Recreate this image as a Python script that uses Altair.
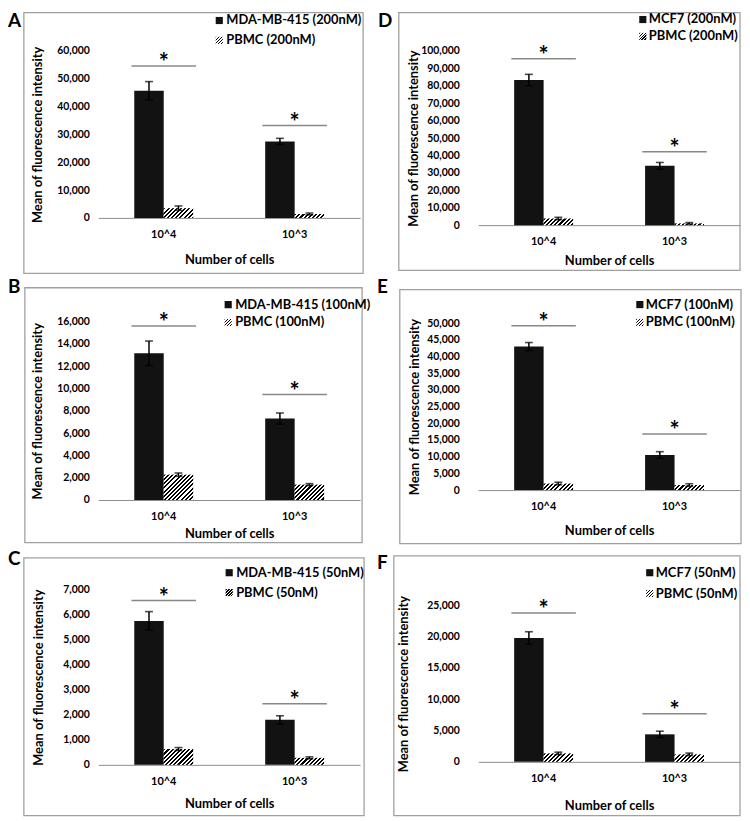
import altair as alt
import pandas as pd

# ---------------- data ----------------
categories = ["10^4", "10^3"]
panel_letters = ["A", "B", "C", "D", "E", "F"]
tumor_labels = ["MDA-MB-415 (200nM)", "MDA-MB-415 (100nM)", "MDA-MB-415 (50nM)",
                "MCF7 (200nM)", "MCF7 (100nM)", "MCF7 (50nM)"]
pbmc_labels = ["PBMC (200nM)", "PBMC (100nM)", "PBMC (50nM)",
               "PBMC (200nM)", "PBMC (100nM)", "PBMC (50nM)"]
tumor_mean = [[45700, 27500], [13150, 7300], [5750, 1800],
              [83300, 34100], [43000, 10500], [19800, 4400]]
tumor_err = [[3300, 1100], [1100, 500], [370, 160],
             [3300, 1900], [1200, 1000], [1000, 500]]
pbmc_mean = [[3500, 1400], [2270, 1380], [630, 280],
             [3800, 1000], [1950, 1500], [1350, 1200]]
pbmc_err = [[800, 350], [150, 90], [60, 40],
            [700, 500], [400, 400], [200, 200]]
sig_level = [[54600, 33200], [15600, 9450], [6560, 2440],
             [95600, 42100], [49200, 16800], [23800, 7700]]
tick_max = [60000, 16000, 7000, 100000, 50000, 25000]
tick_step = [10000, 2000, 1000, 10000, 5000, 5000]

# ---------------- layout (page pixels) ----------------
PANEL_ROW = [0, 1, 2, 0, 1, 2]
PANEL_COL = [0, 0, 0, 1, 1, 1]
ZERO_Y = [215.0, 499.0, 765.7, 222.3, 489.0, 762.7]
TOP_TICK_Y = [46.7, 319.0, 589.0, 46.7, 320.7, 605.0]
BOX = [(24, 8, 366, 271), (25, 285, 365, 542), (24, 557, 367, 817),
       (402, 8, 746, 268), (403, 287, 747, 543), (397, 555, 746, 817)]
LETTER_XY = [(8, 8), (8, 275), (8, 549), (381, 8), (380, 275), (380, 553)]
LEGEND = [(221, 228, 16, 36), (230, 237, 302, 320), (231, 238, 572, 592),
          (648, 654, 15, 32), (645, 651, 302, 320), (655, 661, 572, 593)]
YTITLE_X = [38, 38, 39, 417, 418, 407]
XTITLE_OFF = [42, 34, 39, 36, 41, 44]
YLAB_PAD = [9, 19]
PLOT_LEFT = [99, 482]
PLOT_W = 264
ROW_SPACING = 60
COL_SPACING = PLOT_LEFT[1] - (PLOT_LEFT[0] + PLOT_W)
P_INNER = 0.55

row_top = [46.7]
row_h = []
for r in range(3):
    hs = [ZERO_Y[i] - row_top[r] for i in range(6) if PANEL_ROW[i] == r]
    row_h.append(max(hs))
    if r < 2:
        row_top.append(row_top[r] + row_h[r] + ROW_SPACING)

FONT = "Lato"


def hatch_fill(w, h, period=4.0, frac=0.5):
    w = max(float(w), 0.5)
    h = max(float(h), 0.5)
    s = w + h
    gx = w * s / (w * w + h * h)
    gy = h * s / (w * w + h * h)
    dt = period / s
    stops = []
    k = 0
    while k * dt < 1:
        a = k * dt
        b = min((k + frac) * dt, 1.0)
        c = min((k + 1) * dt, 1.0)
        stops += [{"offset": a, "color": "#000000"}, {"offset": b, "color": "#000000"},
                  {"offset": b, "color": "#ffffff"}, {"offset": c, "color": "#ffffff"}]
        k += 1
    return {"gradient": "linear", "x1": 0, "y1": 0, "x2": gx, "y2": gy, "stops": stops}


def make_panel(i):
    r, c = PANEL_ROW[i], PANEL_COL[i]
    rt = row_top[r]
    pl = PLOT_LEFT[c]
    h = ZERO_Y[i] - rt
    dmax = tick_max[i] * h / (ZERO_Y[i] - TOP_TICK_Y[i]) * 1.0002

    recs = []
    for k, cat in enumerate(categories):
        tm, te = tumor_mean[i][k], tumor_err[i][k]
        pm, pe = pbmc_mean[i][k], pbmc_err[i][k]
        recs.append(dict(cat=cat, series="tumor", mean=tm, lo=tm - te, hi=tm + te))
        recs.append(dict(cat=cat, series="pbmc", mean=pm, lo=pm - pe, hi=pm + pe))
    df = pd.DataFrame(recs)
    sig_df = pd.DataFrame({"cat": categories, "sig": sig_level[i]})

    ticks = list(range(0, tick_max[i] + 1, tick_step[i]))
    yaxis = alt.Axis(values=ticks, format=",.0f", grid=False, domain=False, ticks=False,
                     labelPadding=YLAB_PAD[c], labelFontSize=10.5, labelFontWeight="bold",
                     labelColor="black", labelFont=FONT,
                     title="Mean of fluorescence intensity", titleFont=FONT,
                     titleFontSize=13, titleFontWeight="bold", titleColor="black",
                     titleAngle=270, titleX=YTITLE_X[i] - pl,
                     titleY=(TOP_TICK_Y[i] + ZERO_Y[i]) / 2 - rt,
                     titleAlign="center", titleBaseline="middle")
    yscale = alt.Scale(domain=[0, dmax], nice=False, zero=True)
    xaxis = alt.Axis(labelAngle=0, labelFontSize=11, labelFontWeight="bold",
                     labelColor="black", labelFont=FONT, labelPadding=11,
                     ticks=False, tickSize=0, domainColor="#8c8c8c", domainWidth=1,
                     grid=False, title="Number of cells", titleFont=FONT,
                     titleFontSize=13, titleFontWeight="bold", titleColor="black",
                     titleY=XTITLE_OFF[i], titleBaseline="middle")
    xscale = alt.Scale(domain=categories, paddingInner=P_INNER, paddingOuter=P_INNER / 2)
    X = alt.X("cat:N", scale=xscale, axis=xaxis, sort=categories)
    XO = alt.XOffset("series:N", scale=alt.Scale(domain=["tumor", "pbmc"],
                                                 paddingInner=0, paddingOuter=0))

    def Y(field):
        return alt.Y(field, type="quantitative", scale=yscale, axis=yaxis)

    base = alt.Chart(df).encode(x=X, xOffset=XO)
    layers = []
    layers.append(base.transform_filter(alt.datum.series == "tumor")
                  .mark_bar(fill="#121212").encode(y=Y("mean")))

    step = PLOT_W / 2.0
    sub_w = step * (1 - P_INNER) / 2.0
    for k, cat in enumerate(categories):
        hp = pbmc_mean[i][k] / dmax * h
        layers.append(base.transform_filter((alt.datum.series == "pbmc") & (alt.datum.cat == cat))
                      .mark_bar(fill=hatch_fill(sub_w, hp, 4.2)).encode(y=Y("mean")))

    layers.append(base.mark_rule(color="black", strokeWidth=1.5)
                  .encode(y=Y("lo"), y2=alt.Y2("hi")))
    layers.append(base.mark_tick(color="black", size=8, thickness=1.6).encode(y=Y("hi")))
    layers.append(base.mark_tick(color="black", size=8, thickness=1.6).encode(y=Y("lo")))

    sig = alt.Chart(sig_df).encode(x=X, y=Y("sig"))
    layers.append(sig.mark_tick(color="#555555", size=65, thickness=1.5))
    layers.append(sig.mark_text(text="*", fontSize=24, fontWeight="bold", font=FONT,
                                baseline="alphabetic", dy=5, color="black"))

    # panel frame
    bx0, by0, bx1, by1 = BOX[i]
    frame = alt.Chart(pd.DataFrame({"p": [panel_letters[i]]})).mark_rect(
        fill="transparent", stroke="#a0a0a0", strokeWidth=1.3).encode(
        x=alt.value(bx0 - pl), x2=alt.value(bx1 - pl),
        y=alt.value(by0 - rt), y2=alt.value(by1 - rt))
    layers.append(frame)

    lx, ly = LETTER_XY[i]
    letter = alt.Chart(pd.DataFrame({"p": [panel_letters[i]]})).mark_text(
        fontSize=19, fontWeight="bold", font=FONT, align="left", baseline="top",
        color="black").encode(x=alt.value(lx - pl), y=alt.value(ly - rt), text="p:N")
    layers.append(letter)

    mx, tx, y1, y2 = LEGEND[i]
    sq = 3.6
    layers.append(alt.Chart(pd.DataFrame({"s": [tumor_labels[i]]})).mark_rect(fill="#121212")
                  .encode(x=alt.value(mx - sq - pl), x2=alt.value(mx + sq - pl),
                          y=alt.value(y1 - sq - rt), y2=alt.value(y1 + sq - rt)))
    layers.append(alt.Chart(pd.DataFrame({"s": [pbmc_labels[i]]})).mark_rect(
        fill=hatch_fill(2 * sq, 2 * sq, 3.0))
                  .encode(x=alt.value(mx - sq - pl), x2=alt.value(mx + sq - pl),
                          y=alt.value(y2 - sq - rt), y2=alt.value(y2 + sq - rt)))
    leg_df = pd.DataFrame({"label": [tumor_labels[i], pbmc_labels[i]], "row": [0, 1]})
    layers.append(alt.Chart(leg_df).transform_filter(alt.datum.row == 0).mark_text(
        fontSize=13, fontWeight="bold", font=FONT, align="left", baseline="middle",
        color="black").encode(x=alt.value(tx - pl), y=alt.value(y1 - rt), text="label:N"))
    layers.append(alt.Chart(leg_df).transform_filter(alt.datum.row == 1).mark_text(
        fontSize=13, fontWeight="bold", font=FONT, align="left", baseline="middle",
        color="black").encode(x=alt.value(tx - pl), y=alt.value(y2 - rt), text="label:N"))

    return alt.layer(*layers).properties(width=PLOT_W, height=h)


order = [0, 3, 1, 4, 2, 5]
panels = [make_panel(i) for i in order]

chart = alt.concat(*panels, columns=2, bounds="flush",
                   spacing={"row": ROW_SPACING, "column": COL_SPACING}).properties(
    padding=0, background="white"
).configure(font=FONT).configure_view(stroke="transparent", strokeWidth=0)

chart.save("out.html", embed_options={"renderer": "svg", "actions": False})
